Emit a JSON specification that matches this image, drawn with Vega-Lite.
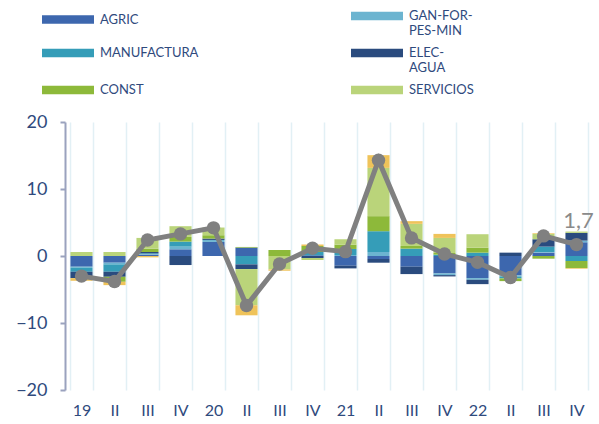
{
  "$schema": "https://vega.github.io/schema/vega-lite/v6.json",
  "width": 528,
  "height": 268,
  "autosize": {"type": "none"},
  "padding": {"left": 65, "top": 122, "right": 6, "bottom": 34},
  "config": {"view": {"stroke": null}, "font": "Lato"},
  "datasets": {
    "bars": [
      {"q": "19-I", "sector": "AGRIC", "value": -1.6},
      {"q": "19-I", "sector": "GAN-FOR-PES-MIN", "value": -0.15},
      {"q": "19-I", "sector": "MANUFACTURA", "value": -0.6},
      {"q": "19-I", "sector": "ELEC-AGUA", "value": -0.95},
      {"q": "19-I", "sector": "SERVICIOS", "value": 0.6},
      {"q": "19-I", "sector": "OTROS", "value": -0.4},
      {"q": "19-II", "sector": "AGRIC", "value": -1.0},
      {"q": "19-II", "sector": "GAN-FOR-PES-MIN", "value": -0.25},
      {"q": "19-II", "sector": "MANUFACTURA", "value": -1.1},
      {"q": "19-II", "sector": "ELEC-AGUA", "value": -0.75},
      {"q": "19-II", "sector": "CONST", "value": -0.75},
      {"q": "19-II", "sector": "SERVICIOS", "value": 0.6},
      {"q": "19-II", "sector": "OTROS", "value": -0.5},
      {"q": "19-III", "sector": "AGRIC", "value": 0.2},
      {"q": "19-III", "sector": "GAN-FOR-PES-MIN", "value": 0.1},
      {"q": "19-III", "sector": "MANUFACTURA", "value": 0.1},
      {"q": "19-III", "sector": "ELEC-AGUA", "value": 0.2},
      {"q": "19-III", "sector": "CONST", "value": 0.5},
      {"q": "19-III", "sector": "SERVICIOS", "value": 1.6},
      {"q": "19-III", "sector": "OTROS", "value": -0.2},
      {"q": "19-IV", "sector": "AGRIC", "value": 1.0},
      {"q": "19-IV", "sector": "GAN-FOR-PES-MIN", "value": 0.4},
      {"q": "19-IV", "sector": "MANUFACTURA", "value": 0.75},
      {"q": "19-IV", "sector": "ELEC-AGUA", "value": -1.35},
      {"q": "19-IV", "sector": "CONST", "value": 0.7},
      {"q": "19-IV", "sector": "SERVICIOS", "value": 1.6},
      {"q": "20-I", "sector": "AGRIC", "value": 2.1},
      {"q": "20-I", "sector": "GAN-FOR-PES-MIN", "value": 0.3},
      {"q": "20-I", "sector": "ELEC-AGUA", "value": 0.2},
      {"q": "20-I", "sector": "CONST", "value": 0.5},
      {"q": "20-I", "sector": "SERVICIOS", "value": 1.15},
      {"q": "20-II", "sector": "AGRIC", "value": 1.25},
      {"q": "20-II", "sector": "MANUFACTURA", "value": -1.25},
      {"q": "20-II", "sector": "ELEC-AGUA", "value": -0.7},
      {"q": "20-II", "sector": "CONST", "value": 0.1},
      {"q": "20-II", "sector": "SERVICIOS", "value": -5.4},
      {"q": "20-II", "sector": "OTROS", "value": -1.5},
      {"q": "20-III", "sector": "CONST", "value": 0.9},
      {"q": "20-III", "sector": "SERVICIOS", "value": -2.0},
      {"q": "20-III", "sector": "OTROS", "value": -0.2},
      {"q": "20-IV", "sector": "AGRIC", "value": 0.1},
      {"q": "20-IV", "sector": "MANUFACTURA", "value": 0.5},
      {"q": "20-IV", "sector": "ELEC-AGUA", "value": -0.3},
      {"q": "20-IV", "sector": "CONST", "value": 0.9},
      {"q": "20-IV", "sector": "SERVICIOS", "value": -0.3},
      {"q": "20-IV", "sector": "OTROS", "value": 0.2},
      {"q": "21-I", "sector": "AGRIC", "value": -1.45},
      {"q": "21-I", "sector": "GAN-FOR-PES-MIN", "value": 0.15},
      {"q": "21-I", "sector": "MANUFACTURA", "value": 0.9},
      {"q": "21-I", "sector": "ELEC-AGUA", "value": -0.4},
      {"q": "21-I", "sector": "CONST", "value": 0.65},
      {"q": "21-I", "sector": "SERVICIOS", "value": 0.8},
      {"q": "21-II", "sector": "AGRIC", "value": -0.45},
      {"q": "21-II", "sector": "GAN-FOR-PES-MIN", "value": 0.6},
      {"q": "21-II", "sector": "MANUFACTURA", "value": 3.1},
      {"q": "21-II", "sector": "ELEC-AGUA", "value": -0.55},
      {"q": "21-II", "sector": "CONST", "value": 2.25},
      {"q": "21-II", "sector": "SERVICIOS", "value": 7.2},
      {"q": "21-II", "sector": "OTROS", "value": 1.9},
      {"q": "21-III", "sector": "AGRIC", "value": -1.6},
      {"q": "21-III", "sector": "MANUFACTURA", "value": 1.1},
      {"q": "21-III", "sector": "ELEC-AGUA", "value": -1.1},
      {"q": "21-III", "sector": "CONST", "value": 0.4},
      {"q": "21-III", "sector": "SERVICIOS", "value": 3.3},
      {"q": "21-III", "sector": "OTROS", "value": 0.4},
      {"q": "21-IV", "sector": "AGRIC", "value": -2.6},
      {"q": "21-IV", "sector": "GAN-FOR-PES-MIN", "value": -0.25},
      {"q": "21-IV", "sector": "MANUFACTURA", "value": 0.2},
      {"q": "21-IV", "sector": "ELEC-AGUA", "value": -0.2},
      {"q": "21-IV", "sector": "CONST", "value": 0.25},
      {"q": "21-IV", "sector": "SERVICIOS", "value": 2.25},
      {"q": "21-IV", "sector": "OTROS", "value": 0.6},
      {"q": "22-I", "sector": "AGRIC", "value": -3.3},
      {"q": "22-I", "sector": "GAN-FOR-PES-MIN", "value": -0.25},
      {"q": "22-I", "sector": "MANUFACTURA", "value": 0.5},
      {"q": "22-I", "sector": "ELEC-AGUA", "value": -0.65},
      {"q": "22-I", "sector": "CONST", "value": 0.75},
      {"q": "22-I", "sector": "SERVICIOS", "value": 2.0},
      {"q": "22-II", "sector": "AGRIC", "value": -2.9},
      {"q": "22-II", "sector": "GAN-FOR-PES-MIN", "value": -0.15},
      {"q": "22-II", "sector": "MANUFACTURA", "value": -0.3},
      {"q": "22-II", "sector": "ELEC-AGUA", "value": 0.5},
      {"q": "22-II", "sector": "CONST", "value": -0.4},
      {"q": "22-III", "sector": "AGRIC", "value": 0.5},
      {"q": "22-III", "sector": "GAN-FOR-PES-MIN", "value": 0.1},
      {"q": "22-III", "sector": "MANUFACTURA", "value": 0.8},
      {"q": "22-III", "sector": "ELEC-AGUA", "value": 1.1},
      {"q": "22-III", "sector": "CONST", "value": -0.4},
      {"q": "22-III", "sector": "SERVICIOS", "value": 0.8},
      {"q": "22-III", "sector": "OTROS", "value": 0.1},
      {"q": "22-IV", "sector": "AGRIC", "value": 2.05},
      {"q": "22-IV", "sector": "GAN-FOR-PES-MIN", "value": 0.25},
      {"q": "22-IV", "sector": "MANUFACTURA", "value": -0.75},
      {"q": "22-IV", "sector": "ELEC-AGUA", "value": 1.15},
      {"q": "22-IV", "sector": "CONST", "value": -1.05},
      {"q": "22-IV", "sector": "SERVICIOS", "value": 0.2},
      {"q": "22-IV", "sector": "OTROS", "value": -0.1}
    ],
    "total": [
      {"q": "19-I", "total": -3.0},
      {"q": "19-II", "total": -3.8},
      {"q": "19-III", "total": 2.4},
      {"q": "19-IV", "total": 3.3},
      {"q": "20-I", "total": 4.2},
      {"q": "20-II", "total": -7.4},
      {"q": "20-III", "total": -1.2},
      {"q": "20-IV", "total": 1.15},
      {"q": "21-I", "total": 0.65},
      {"q": "21-II", "total": 14.3},
      {"q": "21-III", "total": 2.7},
      {"q": "21-IV", "total": 0.3},
      {"q": "22-I", "total": -0.95},
      {"q": "22-II", "total": -3.2},
      {"q": "22-III", "total": 3.0},
      {"q": "22-IV", "total": 1.7, "label": "1,7"}
    ]
  },
  "encoding": {
    "x": {
      "field": "q",
      "type": "ordinal",
      "scale": {
        "domain": ["19-I","19-II","19-III","19-IV","20-I","20-II","20-III","20-IV","21-I","21-II","21-III","21-IV","22-I","22-II","22-III","22-IV"],
        "paddingInner": 0.33,
        "paddingOuter": 0.165
      },
      "axis": {
        "title": null,
        "labelExpr": "split(datum.label, '-')[1] == 'I' ? split(datum.label, '-')[0] : split(datum.label, '-')[1]",
        "labelAngle": 0,
        "labelFontSize": 16,
        "labelColor": "#2F4A7D",
        "labelPadding": 12,
        "domain": false,
        "ticks": false,
        "grid": true,
        "gridColor": "#E2F0F5",
        "gridWidth": 1.5,
        "tickBand": "extent"
      }
    }
  },
  "layer": [
    {
      "data": {"name": "bars"},
      "transform": [
        {"calculate": "indexof(['AGRIC','GAN-FOR-PES-MIN','MANUFACTURA','ELEC-AGUA','CONST','SERVICIOS','OTROS'], datum.sector)", "as": "ord"}
      ],
      "mark": {"type": "bar"},
      "encoding": {
        "y": {
          "field": "value",
          "type": "quantitative",
          "stack": "zero",
          "scale": {"domain": [-20, 20], "nice": false},
          "axis": {
            "title": null,
            "values": [-20, -10, 0, 10, 20],
            "labelFontSize": 18,
            "labelColor": "#2F4A7D",
            "labelPadding": 13,
            "domainColor": "#9AA2BE",
            "domainWidth": 2,
            "tickColor": "#9AA2BE",
            "tickWidth": 2,
            "tickSize": 5,
            "grid": false
          }
        },
        "order": {"field": "ord", "type": "quantitative"},
        "color": {
          "field": "sector",
          "type": "nominal",
          "scale": {
            "domain": ["AGRIC","GAN-FOR-PES-MIN","MANUFACTURA","ELEC-AGUA","CONST","SERVICIOS","OTROS"],
            "range": ["#3D67AE","#6CB4D0","#359DB8","#2A4B7E","#8DB93A","#BAD47A","#EFC35A"]
          },
          "legend": {
            "title": null,
            "orient": "none",
            "legendX": -23,
            "legendY": -121,
            "columns": 2,
            "values": ["AGRIC","MANUFACTURA","CONST","GAN-FOR-PES-MIN","ELEC-AGUA","SERVICIOS"],
            "labelExpr": "datum.label == 'GAN-FOR-PES-MIN' ? ['GAN-FOR-', 'PES-MIN'] : datum.label == 'ELEC-AGUA' ? ['ELEC-', 'AGUA'] : datum.label",
            "symbolType": "M-1,-0.16H1V0.16H-1Z",
            "symbolSize": 2704,
            "symbolStrokeWidth": 0,
            "symbolOpacity": 1,
            "labelFontSize": 13,
            "labelColor": "#2F4A7D",
            "labelOffset": 6,
            "clipHeight": 30,
            "rowPadding": -5,
            "columnPadding": 152,
            "padding": 0
          }
        }
      }
    },
    {
      "mark": {"type": "rule", "color": "#8E97B6", "strokeWidth": 2},
      "encoding": {"y": {"datum": 0}, "x": null}
    },
    {
      "data": {"name": "total"},
      "mark": {"type": "line", "color": "#808080", "strokeWidth": 5},
      "encoding": {"y": {"field": "total", "type": "quantitative"}}
    },
    {
      "data": {"name": "total"},
      "mark": {"type": "point", "filled": true, "color": "#808080", "size": 180, "opacity": 1},
      "encoding": {"y": {"field": "total", "type": "quantitative"}}
    },
    {
      "data": {"name": "total"},
      "transform": [{"filter": "isValid(datum.label)"}],
      "mark": {"type": "text", "color": "#8A8A8A", "fontSize": 22, "baseline": "bottom", "align": "center", "dy": -12, "dx": 2},
      "encoding": {"y": {"field": "total", "type": "quantitative"}, "text": {"field": "label"}}
    }
  ]
}
